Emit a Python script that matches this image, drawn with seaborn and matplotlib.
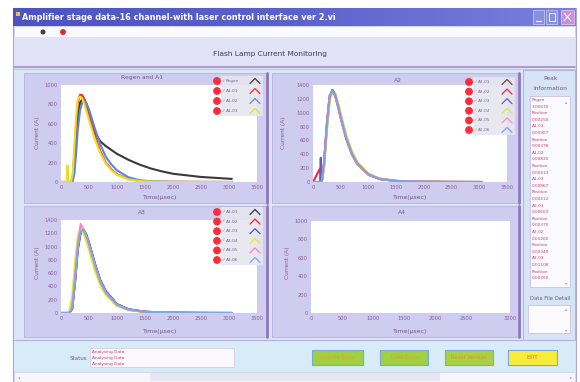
import numpy as np
import pandas as pd
import matplotlib
matplotlib.use("Agg")
import matplotlib.pyplot as plt
import seaborn as sns
from matplotlib.patches import Rectangle, Circle
from matplotlib.colors import LinearSegmentedColormap

sns.set_style("white")
plt.rcParams['font.family'] = ['DejaVu Sans']

W, H = 580, 382

# ---------------- data ----------------
title_text = "Amplifier stage data-16 channel-with laser control interface ver 2.vi"
panel_title = "Flash Lamp Current Monitoring"

# Regen and A1
t_a1 = [0, 100, 115, 130, 180, 210, 240, 270, 300, 340, 380, 420, 460, 500, 600, 700, 800, 900, 1000, 1200, 1400, 1600, 1800, 2000, 2500, 3050]
regen = [0, 0, 0, 0, 0, 30, 180, 420, 650, 820, 850, 845, 800, 700, 520, 420, 370, 330, 290, 230, 180, 140, 110, 85, 52, 32]
a1_01 = [0, 0, 0, 0, 0, 60, 300, 600, 820, 900, 895, 850, 770, 690, 490, 320, 200, 130, 80, 30, 12, 6, 3, 2, 1, 0]
a1_02 = [0, 0, 0, 0, 0, 10, 90, 300, 540, 740, 820, 830, 800, 750, 560, 390, 260, 180, 120, 50, 18, 8, 4, 2, 1, 0]
a1_03 = [0, 0, 170, 0, 5, 90, 380, 680, 850, 880, 860, 800, 720, 640, 450, 300, 190, 120, 75, 28, 10, 5, 3, 2, 1, 0]
a1_names = ["Regen", "A1-01", "A1-02", "A1-03"]
a1_colors = ["#3a3a3a", "#ff2a2a", "#5a86e0", "#e8e020"]

# A2
t_a2 = [0, 130, 140, 150, 160, 200, 250, 300, 350, 400, 450, 500, 600, 700, 800, 1000, 1200, 1500, 2000, 2500, 3050]
a2_01 = [0, 0, 0, 0, 10, 250, 800, 1220, 1320, 1260, 1120, 950, 640, 420, 270, 110, 45, 15, 3, 1, 0]
a2_02 = [0, 200, 0, 0, 20, 300, 850, 1250, 1310, 1240, 1090, 920, 620, 400, 260, 105, 42, 14, 3, 1, 0]
a2_03 = [0, 0, 350, 0, 10, 240, 780, 1200, 1330, 1270, 1130, 960, 650, 430, 280, 115, 48, 16, 4, 1, 0]
a2_04 = [0, 0, 0, 0, 5, 200, 720, 1150, 1300, 1270, 1150, 990, 680, 450, 290, 120, 50, 17, 4, 1, 0]
a2_05 = [0, 0, 0, 0, 15, 280, 830, 1240, 1310, 1250, 1100, 930, 630, 410, 265, 108, 44, 15, 3, 1, 0]
a2_06 = [0, 0, 0, 0, 10, 260, 810, 1230, 1320, 1255, 1110, 940, 635, 415, 268, 110, 45, 15, 3, 1, 0]
a2_names = ["A2-01", "A2-02", "A2-03", "A2-04", "A2-05", "A2-06"]
a2_colors = ["#6a4a3a", "#ff2040", "#6060c0", "#d8e840", "#ff90c0", "#80a0e0"]

# A3
t_a3 = [0, 100, 150, 200, 250, 300, 350, 400, 450, 500, 600, 700, 800, 1000, 1200, 1500, 2000, 2500, 3050]
a3_01 = [0, 0, 0, 80, 500, 1000, 1230, 1260, 1180, 1050, 750, 490, 320, 130, 55, 18, 4, 1, 0]
a3_02 = [0, 0, 0, 70, 480, 980, 1220, 1250, 1170, 1040, 740, 480, 310, 125, 52, 17, 4, 1, 0]
a3_03 = [0, 0, 0, 60, 450, 950, 1200, 1250, 1180, 1060, 760, 500, 330, 135, 58, 19, 5, 1, 0]
a3_04 = [0, 0, 30, 250, 750, 1150, 1260, 1200, 1090, 950, 650, 420, 270, 105, 42, 14, 3, 1, 0]
a3_05 = [0, 0, 0, 90, 520, 1020, 1340, 1250, 1160, 1030, 735, 475, 305, 122, 50, 16, 4, 1, 0]
a3_06 = [0, 0, 0, 75, 490, 990, 1225, 1255, 1175, 1045, 745, 485, 315, 128, 53, 17, 4, 1, 0]
a3_names = ["A3-01", "A3-02", "A3-03", "A3-04", "A3-05", "A3-06"]
a3_colors = ["#303030", "#ff2020", "#5050c0", "#e8e820", "#ff80c0", "#80a8e8"]

xticks_main = [0, 500, 1000, 1500, 2000, 2500, 3000, 3500]
xticks_a4 = [0, 500, 1000, 1500, 2000, 2500, 3200]
yticks_a1 = [0, 200, 400, 600, 800, 1000]
yticks_a23 = [0, 200, 400, 600, 800, 1000, 1200, 1400]

peak_info = ["Regen", "3.00670", "Position", "0.00250", "A1-01", "0.00907", "Position",
             "0.00378", "A1-02", "0.00830", "Position", "0.00413", "A1-03", "0.00867",
             "Position", "0.00412", "A2-01", "0.00603", "Position", "0.00370", "A2-02",
             "0.01260", "Position", "0.00349", "A2-03", "0.01108", "Position", "0.00350"]
status_lines = ["Analysing Data", "Analysing Data", "Analysing Data"]
buttons = ["Acquire Data", "Load Data", "Reset Version", "EXIT"]

# ---------------- figure ----------------
fig = plt.figure(figsize=(W / 100, H / 100), dpi=100)
fig.patch.set_facecolor("white")


def fa(x0, y0, x1, y1):
    return [x0 / W, 1 - y1 / H, (x1 - x0) / W, (y1 - y0) / H]


def pixax(z):
    a = fig.add_axes([0, 0, 1, 1], zorder=z)
    a.set_xlim(0, W)
    a.set_ylim(H, 0)
    a.axis("off")
    a.patch.set_alpha(0)
    return a


bg = pixax(0)
ov = pixax(5)


def rect(ax, x0, y0, x1, y1, fc, ec="none", lw=0.6, z=1, alpha=1):
    ax.add_patch(Rectangle((x0, y0), x1 - x0, y1 - y0, facecolor=fc, edgecolor=ec, lw=lw, zorder=z, alpha=alpha))


# window body
rect(bg, 13, 8, 576, 382, "#dbe6f6", ec="#a8a8dc", lw=0.8)
# title bar gradient
cm = LinearSegmentedColormap.from_list("tb", ["#4c52c2", "#5c62cc", "#7a80dc"])
bg.imshow(np.linspace(0, 1, 256)[None, :], cmap=cm, extent=(13, 576, 26, 8), aspect="auto", zorder=2)
bg.set_xlim(0, W)
bg.set_ylim(H, 0)
bg.text(22, 17.5, title_text, color="white", fontsize=5.9, fontweight="bold", va="center", ha="left", zorder=3)
rect(bg, 16, 12, 20, 16, "#f0c040", z=3)
# window buttons
rect(bg, 533, 10, 544, 24, "#8a90e0", ec="#c0c4f4", z=3)
rect(bg, 546, 10, 557, 24, "#8a90e0", ec="#c0c4f4", z=3)
rect(bg, 561, 10, 574, 24, "#c890d8", ec="#e0c4f0", z=3)
bg.plot([536, 541], [21, 21], color="white", lw=0.8, zorder=4)
rect(bg, 548.5, 13, 554.5, 21, "none", ec="white", lw=0.6, z=4)
bg.plot([564, 571], [13, 21], color="white", lw=0.7, zorder=4)
bg.plot([564, 571], [21, 13], color="white", lw=0.7, zorder=4)
# toolbar
rect(bg, 14, 26, 575, 37, "#fbfbff", ec="#c8c8e8", lw=0.5, z=2)
bg.add_patch(Circle((43, 32), 1.8, color="#404040", zorder=3))
bg.add_patch(Circle((63, 32), 2.2, color="#ee2030", zorder=3))
# upper lavender band
rect(bg, 14, 37, 575, 66, "#e1e2f8", z=2)
bg.plot([14, 575], [66.5, 66.5], color="#a88cc8", lw=1.2, zorder=3)
bg.plot([14, 575], [68.5, 68.5], color="#c8b8e0", lw=0.6, zorder=3)
bg.text(270, 54, panel_title, fontsize=5.3, color="#403848", ha="center", va="center", zorder=3)

# plot frames
frames = [(24, 73, 268, 203), (272, 73, 520, 203), (24, 206, 268, 337), (272, 206, 520, 337)]
for (x0, y0, x1, y1) in frames:
    rect(bg, x0, y0, x1, y1, "#cfcdef", ec="#b8b0e0", lw=0.6, z=2)
    bg.plot([x1 - 1.5, x1 - 1.5], [y0, y1], color="#9078c0", lw=2.0, zorder=3)
# right panel
rect(bg, 523, 70, 575, 340, "#d6e4f6", ec="#b0a8d8", lw=0.6, z=2)
bg.text(550, 78, "Peak", fontsize=4.2, color="#705888", ha="center", va="center", zorder=3)
bg.text(550, 88, "Information", fontsize=4.2, color="#705888", ha="center", va="center", zorder=3)
rect(bg, 530, 96, 570, 287, "#fbfaff", ec="#c0b8e0", lw=0.5, z=3)
for i, s in enumerate(peak_info):
    bg.text(532, 100 + i * 6.6, s, fontsize=3.1, color="#c04070", ha="left", va="center", zorder=4)
bg.text(566.5, 102, "\u25b4", fontsize=3, color="#9090b0", ha="center", va="center", zorder=4)
bg.text(566.5, 283, "\u25be", fontsize=3, color="#9090b0", ha="center", va="center", zorder=4)
bg.text(550, 298, "Data File Detail", fontsize=3.8, color="#705888", ha="center", va="center", zorder=3)
rect(bg, 528, 305, 570, 333, "#fbfaff", ec="#c0b8e0", lw=0.5, z=3)
bg.text(566.5, 309, "\u25b4", fontsize=3, color="#9090b0", ha="center", va="center", zorder=4)
bg.text(566.5, 330, "\u25be", fontsize=3, color="#9090b0", ha="center", va="center", zorder=4)

# bottom strip
bg.plot([14, 575], [340, 340], color="#b8b0dc", lw=0.8, zorder=3)
rect(bg, 14, 341, 575, 371, "#d8ecf8", z=2)
bg.text(87, 358, "Status", fontsize=4.0, color="#705888", ha="right", va="center", zorder=3)
rect(bg, 90, 348, 234, 367, "#fbf8fc", ec="#d0c8e0", lw=0.5, z=3)
for i, s in enumerate(status_lines):
    bg.text(92, 352 + i * 6, s, fontsize=3.1, color="#c04060", ha="left", va="center", zorder=4)
btn_pos = [(312, 363), (380, 428), (445, 493), (508, 557)]
btn_fc = ["#9ed040", "#9ed040", "#a8d040", "#f8ec3a"]
btn_tc = ["#e89a40", "#e89a40", "#e88a40", "#f07030"]
for (x0, x1), s, fc, tc in zip(btn_pos, buttons, btn_fc, btn_tc):
    rect(bg, x0, 350, x1, 365, fc, ec="#7aa8d8", lw=0.8, z=3)
    bg.text((x0 + x1) / 2, 357.5, s, fontsize=3.8, color=tc, ha="center", va="center", zorder=4)
# scrollbar
rect(bg, 14, 372, 575, 382, "#f4f6fc", ec="#d0d0e8", lw=0.5, z=2)
rect(bg, 150, 373, 440, 381, "#e4e6f2", z=3)
bg.text(19, 377, "\u25c2", fontsize=3, color="#9090b0", ha="center", va="center", zorder=4)
bg.text(571, 377, "\u25b8", fontsize=3, color="#9090b0", ha="center", va="center", zorder=4)

tick_col = "#8a5a9a"


def make_df(t, series, names):
    rows = []
    for name, vals in zip(names, series):
        for tt, vv in zip(t, vals):
            rows.append((tt, vv, name))
    return pd.DataFrame(rows, columns=["t", "v", "s"])


def setup_ax(ax, xlim, ylim, xticks, yticks, title, tx, ty, cx, cy, labx, laby):
    ax.set_facecolor("white")
    ax.set_xlim(*xlim)
    ax.set_ylim(*ylim)
    ax.set_xticks(xticks)
    ax.set_yticks(yticks)
    ax.tick_params(labelsize=3.7, colors=tick_col, length=1.5, width=0.5, pad=1)
    for sp in ax.spines.values():
        sp.set_visible(False)
    ax.set_xlabel("")
    ax.set_ylabel("")
    bg.text(tx, ty, title, fontsize=4.3, color="#705888", ha="center", va="center", zorder=4)
    bg.text(cx, cy, "Current (A)", fontsize=4.2, color=tick_col, rotation=90, ha="center", va="center", zorder=4)
    bg.text(labx, laby, "Time(\u00b5sec)", fontsize=4.4, color="#705888", ha="center", va="center", zorder=4)


LW = 1.5

# Regen and A1
ax1 = fig.add_axes(fa(61, 85, 257, 182), zorder=2)
sns.lineplot(data=make_df(t_a1, [regen, a1_01, a1_02, a1_03], a1_names), x="t", y="v", hue="s",
             palette=a1_colors, hue_order=a1_names, ax=ax1, legend=False, lw=LW, estimator=None, sort=False)
setup_ax(ax1, (0, 3500), (0, 1000), xticks_main, yticks_a1, "Regen and A1", 142, 78, 38, 133, 160, 198)

# A2
ax2 = fig.add_axes(fa(313, 85, 507, 182), zorder=2)
sns.lineplot(data=make_df(t_a2, [a2_01, a2_02, a2_03, a2_04, a2_05, a2_06], a2_names), x="t", y="v", hue="s",
             palette=a2_colors, hue_order=a2_names, ax=ax2, legend=False, lw=LW, estimator=None, sort=False)
setup_ax(ax2, (0, 3500), (0, 1400), xticks_main, yticks_a23, "A2", 398, 80, 284, 133, 410, 198)

# A3
ax3 = fig.add_axes(fa(61, 220, 257, 313), zorder=2)
sns.lineplot(data=make_df(t_a3, [a3_01, a3_02, a3_03, a3_04, a3_05, a3_06], a3_names), x="t", y="v", hue="s",
             palette=a3_colors, hue_order=a3_names, ax=ax3, legend=False, lw=LW, estimator=None, sort=False)
setup_ax(ax3, (0, 3500), (0, 1400), xticks_main, yticks_a23, "A3", 142, 213, 38, 263, 160, 332)

# A4 (empty)
ax4 = fig.add_axes(fa(311, 221, 510, 313), zorder=2)
setup_ax(ax4, (0, 3200), (0, 1000), xticks_a4, yticks_a1, "A4", 402, 213, 287, 263, 410, 332)


# legends
def legend(x, y0, dy, names, colors):
    n = len(names)
    rect(ov, x + 4, y0 - 5, x + 46, y0 + (n - 1) * dy + 5, "#e6e6f0", z=1, alpha=0.9)
    for i, (nm, c) in enumerate(zip(names, colors)):
        y = y0 + i * dy
        ov.add_patch(Circle((x, y), 3.2, color="#ff2a3a", zorder=3))
        ov.text(x + 4.5, y, "\u2713", fontsize=3, color="#80b060", ha="left", va="center", zorder=3)
        ov.text(x + 9, y, nm, fontsize=3.1, color="#806090", ha="left", va="center", zorder=3)
        ov.plot([x + 33, x + 38, x + 43], [y + 2.5, y - 2.5, y + 2.5], color=c, lw=0.9, zorder=3)


legend(217, 81, 10, a1_names, a1_colors)
legend(469, 82, 9.6, a2_names, a2_colors)
legend(217, 212, 9.6, a3_names, a3_colors)

fig.savefig("out.png", dpi=100)
